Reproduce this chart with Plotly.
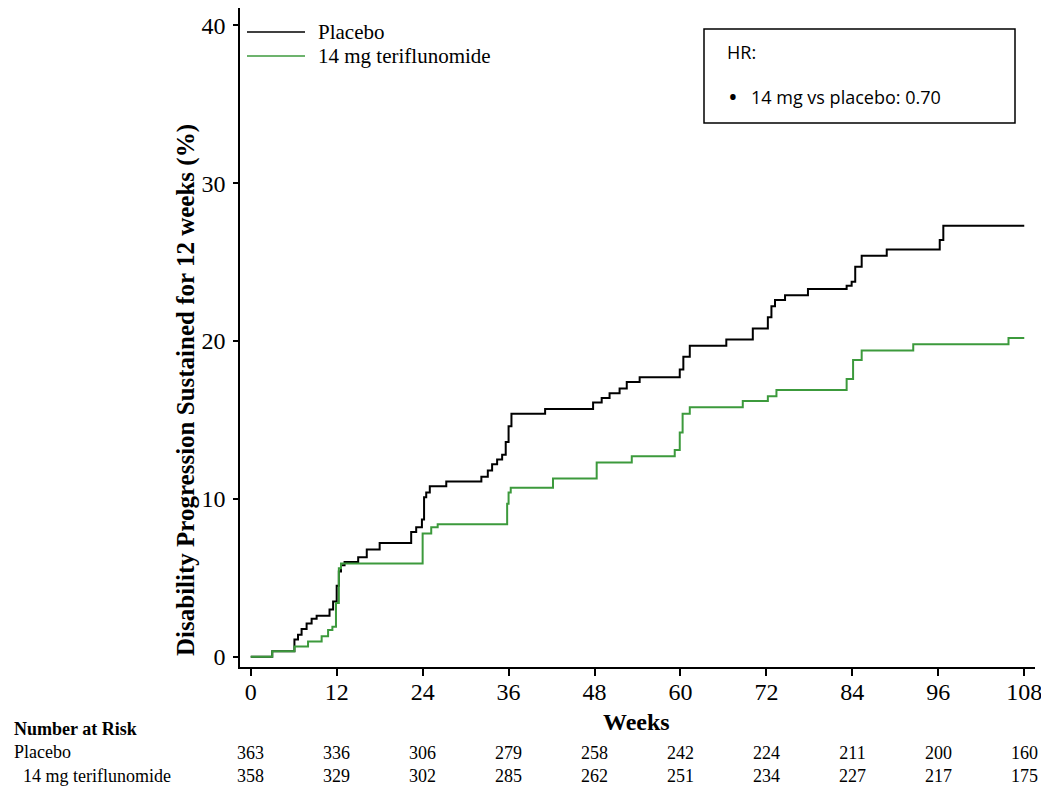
import plotly.graph_objects as go

# Kaplan-Meier style cumulative curves (weeks, %)
placebo_wk = [0, 3.0, 6.1, 6.6, 7.1, 7.8, 8.5, 9.2, 11.0, 11.5, 12.0, 12.3, 12.6, 13.1,
              15.0, 16.2, 18.0, 22.4, 23.1, 23.9, 24.2, 24.5, 25.0, 27.3, 32.2, 33.1,
              33.7, 34.4, 35.1, 35.6, 36.0, 36.4, 41.1, 47.8, 49.0, 50.1, 51.5, 52.5,
              54.3, 59.9, 60.4, 61.3, 66.4, 70.1, 72.2, 72.7, 73.2, 74.6, 77.8, 83.2,
              83.9, 84.4, 85.3, 88.8, 96.2, 96.7, 108]
placebo_pct = [0, 0.35, 1.1, 1.4, 1.75, 2.1, 2.4, 2.6, 3.0, 3.5, 4.5, 5.4, 5.8, 6.0,
               6.3, 6.8, 7.2, 7.9, 8.2, 8.7, 10.1, 10.4, 10.8, 11.1, 11.4, 11.8,
               12.2, 12.5, 12.8, 13.6, 14.6, 15.4, 15.7, 16.1, 16.4, 16.7, 17.0, 17.4,
               17.7, 18.2, 19.0, 19.7, 20.1, 20.8, 21.5, 22.2, 22.6, 22.9, 23.3, 23.5,
               23.75, 24.7, 25.4, 25.8, 26.4, 27.3, 27.3]

teri_wk = [0, 3.0, 6.1, 8.0, 9.9, 10.8, 11.4, 11.9, 12.3, 12.6, 24.0, 25.2, 26.1,
           35.8, 36.0, 36.3, 42.2, 48.3, 53.2, 59.2, 59.9, 60.3, 61.3, 68.7, 72.2,
           73.4, 83.2, 84.1, 85.3, 92.5, 105.8, 108]
teri_pct = [0, 0.35, 0.65, 0.97, 1.3, 1.7, 1.9, 3.4, 5.6, 5.9, 7.8, 8.2, 8.4,
            9.7, 10.4, 10.7, 11.3, 12.3, 12.7, 13.1, 14.2, 15.4, 15.8, 16.2, 16.5,
            16.9, 17.6, 18.8, 19.4, 19.8, 20.2, 20.2]

risk_weeks = [0, 12, 24, 36, 48, 60, 72, 84, 96, 108]
risk_placebo = [363, 336, 306, 279, 258, 242, 224, 211, 200, 160]
risk_teri = [358, 329, 302, 285, 262, 251, 234, 227, 217, 175]

black = '#000000'
green = '#3c9a3c'
serif = 'Liberation Serif'

# page has an 8px body margin, so the figure is made 8px smaller on each axis
OFF = 8
FW, FH = 1049 - OFF, 795 - OFF
# plot area in screen pixels: x 240..1035, y 8..667
L, R, T, B = 240, 1035, 8, 667
W, H = R - L, B - T
def px(x):
    return (x - L) / W
def py(y):
    return (B - y) / H

fig = go.Figure()
fig.add_trace(go.Scatter(x=placebo_wk, y=placebo_pct, mode='lines', line_shape='hv',
                         line=dict(color=black, width=2), name='Placebo', showlegend=False))
fig.add_trace(go.Scatter(x=teri_wk, y=teri_pct, mode='lines', line_shape='hv',
                         line=dict(color=green, width=2), name='14 mg teriflunomide',
                         showlegend=False))

anns = []
shapes = []

def txt(s, x, y, size, xanchor='left', yanchor='middle', family=serif, xref='paper', **kw):
    anns.append(dict(text=s, xref=xref, yref='paper', x=x, y=py(y),
                     xanchor=xanchor, yanchor=yanchor, showarrow=False,
                     font=dict(family=family, size=size, color=black), **kw))

# legend drawn by hand (longer line samples like the original)
for i, (nm, col) in enumerate([('Placebo', black), ('14 mg teriflunomide', green)]):
    yy = 32 + i * 24
    shapes.append(dict(type='line', xref='paper', yref='paper', x0=px(247), x1=px(305),
                       y0=py(yy), y1=py(yy), line=dict(color=col, width=1.5)))
    txt(nm, px(316), yy, 21)

# HR box
shapes.append(dict(type='rect', xref='paper', yref='paper', x0=px(704), x1=px(1015),
                   y0=py(123), y1=py(29), line=dict(color=black, width=1.5)))
txt('HR:', px(725), 52, 18, family='Open Sans')
txt('\u2022', px(726), 96, 26, family='Open Sans')
txt('14 mg vs placebo: 0.70', px(749), 97, 18, family='Open Sans')

# axis titles
txt('<b>Disability Progression Sustained for 12 weeks (%)</b>', px(186), 390, 25,
    xanchor='center', textangle=-90)
txt('<b>Weeks</b>', px(636), 722, 24, xanchor='center')

# number at risk table (multi-line blocks so rows sit tight without overlapping)
tsz = 18
lh = 1.3 * tsz
txt('<b>Number at Risk</b><br>Placebo<br>\u00a0\u00a014 mg teriflunomide',
    px(12), 729 - lh / 2, tsz, yanchor='top', align='left')
for wk, a, b in zip(risk_weeks, risk_placebo, risk_teri):
    txt(f'{a}<br>{b}', wk, 729 + lh / 2, tsz, xanchor='center', yanchor='top',
        xref='x', align='center')

fig.update_layout(
    width=FW, height=FH,
    margin=dict(l=L - OFF, r=FW - (R - OFF), t=T - OFF, b=FH - (B - OFF)),
    paper_bgcolor='white', plot_bgcolor='white',
    showlegend=False,
    annotations=anns, shapes=shapes,
    xaxis=dict(range=[-1.5, 109.5], tickvals=risk_weeks, ticks='outside', ticklen=7,
               tickwidth=1.5, tickcolor=black, showline=True, linecolor=black, linewidth=1.5,
               showgrid=False, zeroline=False, automargin=False, ticklabelstandoff=-5,
               tickfont=dict(family=serif, size=24, color=black)),
    yaxis=dict(range=[-0.65, 41.1], tickvals=[0, 10, 20, 30, 40], ticks='outside', ticklen=5,
               tickwidth=1.5, tickcolor=black, showline=True, linecolor=black, linewidth=1.5,
               showgrid=False, zeroline=False, automargin=False, ticklabelstandoff=3,
               tickfont=dict(family=serif, size=24, color=black)),
)

fig.write_html("out.html")
